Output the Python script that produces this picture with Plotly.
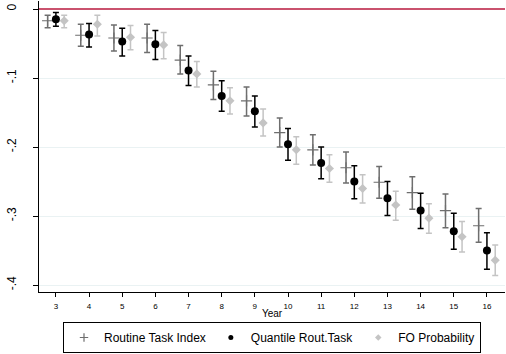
import plotly.graph_objects as go

years = list(range(3, 17))

rti = [-0.017, -0.038, -0.042, -0.042, -0.074, -0.110, -0.133, -0.179, -0.204, -0.230, -0.251, -0.266, -0.292, -0.314]
rti_lo = [-0.027, -0.054, -0.061, -0.063, -0.094, -0.131, -0.155, -0.200, -0.226, -0.252, -0.274, -0.290, -0.317, -0.338]
rti_hi = [-0.009, -0.022, -0.023, -0.022, -0.053, -0.090, -0.113, -0.158, -0.182, -0.207, -0.228, -0.243, -0.268, -0.289]

qrt = [-0.015, -0.037, -0.047, -0.051, -0.089, -0.126, -0.148, -0.196, -0.223, -0.250, -0.274, -0.292, -0.322, -0.350]
qrt_lo = [-0.025, -0.055, -0.068, -0.073, -0.111, -0.148, -0.171, -0.219, -0.246, -0.275, -0.299, -0.318, -0.348, -0.377]
qrt_hi = [-0.005, -0.021, -0.028, -0.031, -0.068, -0.104, -0.126, -0.173, -0.200, -0.227, -0.250, -0.267, -0.296, -0.324]

fo = [-0.017, -0.022, -0.041, -0.052, -0.094, -0.133, -0.165, -0.204, -0.231, -0.260, -0.284, -0.303, -0.330, -0.364]
fo_lo = [-0.027, -0.039, -0.059, -0.072, -0.113, -0.152, -0.184, -0.225, -0.251, -0.281, -0.306, -0.325, -0.352, -0.386]
fo_hi = [-0.009, -0.009, -0.024, -0.034, -0.076, -0.114, -0.145, -0.185, -0.211, -0.240, -0.264, -0.282, -0.308, -0.342]

y_ticks = [-0.1, -0.2, -0.3, -0.4]
y_tick_all = [0, -0.1, -0.2, -0.3, -0.4]
y_tick_labels = ["0", "-.1", "-.2", "-.3", "-.4"]

FONT = "Liberation Sans, Arial, sans-serif"


def add_series(fig, name, offset, vals, lo, hi, color, symbol, size, line_w, leg_size):
    fig.add_trace(go.Scatter(
        x=[y + offset for y in years], y=vals, mode="markers", name=name,
        showlegend=False,
        marker=dict(symbol=symbol, size=size, color=color,
                    line=dict(width=line_w, color=color)),
        error_y=dict(type="data", symmetric=False,
                     array=[h - v for h, v in zip(hi, vals)],
                     arrayminus=[v - l for v, l in zip(vals, lo)],
                     color=color, thickness=1.5, width=3),
    ))
    # legend entry with the smaller key symbol used in the reference
    fig.add_trace(go.Scatter(
        x=[None], y=[None], mode="markers", name=name, showlegend=True,
        marker=dict(symbol=symbol, size=leg_size, color=color,
                    line=dict(width=line_w, color=color)),
    ))


fig = go.Figure()
# invisible trace to activate the grid axis
fig.add_trace(go.Scatter(x=[None], y=[None], yaxis="y2", showlegend=False, hoverinfo="skip"))
add_series(fig, "Routine Task Index", -0.25, rti, rti_lo, rti_hi, "#6e6e6e", "cross-thin", 8, 1.2, 6)
add_series(fig, "Quantile Rout.Task", 0.0, qrt, qrt_lo, qrt_hi, "#000000", "circle", 8, 0, 5)
add_series(fig, "FO Probability", 0.25, fo, fo_lo, fo_hi, "#c4c4c4", "diamond", 7, 0, 5)

fig.add_shape(type="line", xref="paper", x0=0, x1=1, yref="y", y0=0, y1=0,
              line=dict(color="#b8183e", width=1.5), layer="above")

fig.update_layout(
    width=506, height=354,
    margin=dict(l=39, r=1, t=1, b=62, autoexpand=False),
    paper_bgcolor="white", plot_bgcolor="white",
    font=dict(family=FONT, color="#000000"),
    showlegend=True,
    legend=dict(orientation="h", x=0.5, xanchor="center", y=-0.1031, yanchor="top",
                bordercolor="black", borderwidth=1, font=dict(size=12, family=FONT),
                itemwidth=30, tracegroupgap=0),
    xaxis=dict(range=[2.49, 16.545], tickvals=years, ticktext=[str(y) for y in years],
               showgrid=False, zeroline=False, showline=True, linecolor="black", linewidth=1,
               ticks="outside", ticklen=4, tickcolor="black", tickfont=dict(size=8),
               ticklabelstandoff=2, automargin=False,
               title=dict(text="Year", font=dict(size=10), standoff=0)),
    yaxis=dict(range=[-0.410, 0.0116], tickvals=y_tick_all, ticktext=y_tick_labels,
               tickangle=-90, showgrid=False, automargin=False,
               zeroline=False, showline=True, linecolor="black", linewidth=1,
               ticks="outside", ticklen=5, tickcolor="black", tickfont=dict(size=12),
               ticklabelstandoff=12),
    yaxis2=dict(overlaying="y", range=[-0.410, 0.0116], tickvals=y_ticks,
                showticklabels=False, showgrid=True, gridcolor="#eaf2f3", gridwidth=1,
                zeroline=False, showline=False, ticks="", automargin=False),
)

fig.write_html("out.html")
